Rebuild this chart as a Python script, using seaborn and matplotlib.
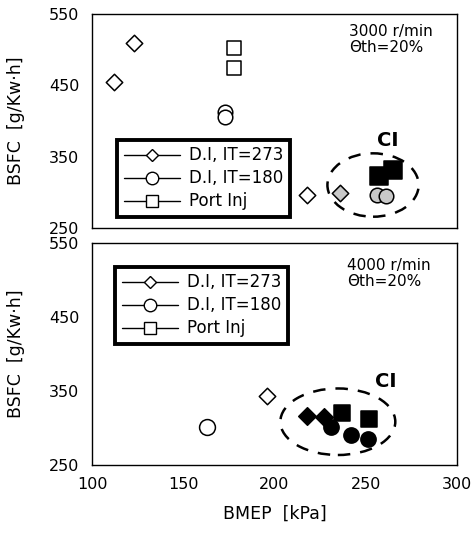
"""
BSFC vs BMEP at 3000 and 4000 r/min, with the CI region circled
"""
import matplotlib
matplotlib.use('Agg')
import matplotlib.pyplot as plt
from matplotlib.lines import Line2D
from matplotlib.patches import Ellipse
import seaborn as sns

# 3000 r/min panel
top_di273_x = [112, 123, 218]
top_di273_y = [455, 510, 296]
top_di180_x = [173, 173]
top_di180_y = [412, 405]
top_port_x = [178, 178]
top_port_y = [503, 474]
# CI points (3000 r/min)
top_ci_di273_x = [236]
top_ci_di273_y = [299]
top_ci_di180_x = [256, 261]
top_ci_di180_y = [296, 294]
top_ci_port_x = [257, 265]
top_ci_port_y = [322, 331]

# 4000 r/min panel
bot_di273_x = [196]
bot_di273_y = [343]
bot_di180_x = [163]
bot_di180_y = [302]
# CI points (4000 r/min)
bot_ci_di273_x = [218, 227]
bot_ci_di273_y = [316, 315]
bot_ci_di180_x = [231, 242, 251]
bot_ci_di180_y = [302, 291, 285]
bot_ci_port_x = [237, 252]
bot_ci_port_y = [320, 312]

series_names = ['D.I, IT=273', 'D.I, IT=180', 'Port Inj']
x_ticks = [100, 150, 200, 250, 300]
y_ticks = [250, 350, 450, 550]

sns.set_style('white', {'xtick.direction': 'in', 'ytick.direction': 'in',
                        'axes.edgecolor': 'black', 'text.color': 'black',
                        'xtick.color': 'black', 'ytick.color': 'black',
                        'axes.labelcolor': 'black'})
plt.rcParams['font.family'] = ['DejaVu Sans']

fig = plt.figure(figsize=(4.77, 5.41), dpi=100)
ax1 = fig.add_axes([0.193, 0.579, 0.765, 0.395])
ax2 = fig.add_axes([0.193, 0.1405, 0.765, 0.41])


def points(ax, xs, ys, marker, size, face):
    sns.scatterplot(x=xs, y=ys, ax=ax, marker=marker, s=size,
                    facecolor=face, edgecolor='black', linewidth=1.1,
                    legend=False, zorder=3)


# top panel
points(ax1, top_di273_x, top_di273_y, 'D', 70, 'white')
points(ax1, top_di180_x, top_di180_y, 'o', 110, 'white')
points(ax1, top_port_x, top_port_y, 's', 115, 'white')
points(ax1, top_ci_di273_x, top_ci_di273_y, 'D', 70, '#c8c8c8')
points(ax1, top_ci_di180_x, top_ci_di180_y, 'o', 110, '#c8c8c8')
points(ax1, top_ci_port_x, top_ci_port_y, 's', 150, 'black')

# bottom panel
points(ax2, bot_di273_x, bot_di273_y, 'D', 70, 'white')
points(ax2, bot_di180_x, bot_di180_y, 'o', 130, 'white')
points(ax2, bot_ci_di273_x, bot_ci_di273_y, 'D', 80, 'black')
points(ax2, bot_ci_di180_x, bot_ci_di180_y, 'o', 120, 'black')
points(ax2, bot_ci_port_x, bot_ci_port_y, 's', 130, 'black')

ax1.add_patch(Ellipse((254, 310), 50, 89, fill=False, edgecolor='black',
                      linewidth=1.8, linestyle=(0, (5, 4))))
ax2.add_patch(Ellipse((234.7, 308.5), 63, 90, fill=False, edgecolor='black',
                      linewidth=1.8, linestyle=(0, (5, 4))))
ax1.text(262, 372, 'CI', fontsize=14, fontweight='bold', ha='center', va='center')
ax2.text(261, 363, 'CI', fontsize=14, fontweight='bold', ha='center', va='center')

ax1.text(0.705, 0.955, '3000 r/min\nΘth=20%', transform=ax1.transAxes,
         fontsize=11, ha='left', va='top', linespacing=1.1)
ax2.text(0.70, 0.935, '4000 r/min\nΘth=20%', transform=ax2.transAxes,
         fontsize=11, ha='left', va='top', linespacing=1.1)

markers = ['D', 'o', 's']
msizes = [6.5, 9, 9]
handles = [Line2D([0], [0], color='black', linewidth=1, marker=m, markersize=ms,
                  markerfacecolor='white', markeredgecolor='black')
           for m, ms in zip(markers, msizes)]

for ax, loc in [(ax1, (0.068, 0.05)), (ax2, (0.063, 0.545))]:
    leg = ax.legend(handles, series_names, loc='lower left', bbox_to_anchor=loc,
                    fontsize=12, frameon=True, fancybox=False, handlelength=3.4,
                    handletextpad=0.5, borderpad=0.4, labelspacing=0.3,
                    borderaxespad=0, framealpha=1)
    leg.get_frame().set_edgecolor('black')
    leg.get_frame().set_linewidth(2.8)

for ax in (ax1, ax2):
    ax.set_xlim(100, 300)
    ax.set_ylim(250, 550)
    ax.set_xticks(x_ticks)
    ax.set_yticks(y_ticks)
    ax.tick_params(labelsize=11.5, length=4, width=1, pad=9)
    ax.set_ylabel('BSFC  [g/Kw·h]', fontsize=12.5)
    ax.yaxis.set_label_coords(-0.185, 0.5)
    for sp in ax.spines.values():
        sp.set_linewidth(1)
        sp.set_color('black')

ax1.set_xticklabels([])
ax2.set_xlabel('BMEP  [kPa]', fontsize=12.5, labelpad=9)

fig.savefig('out.png', dpi=100)
